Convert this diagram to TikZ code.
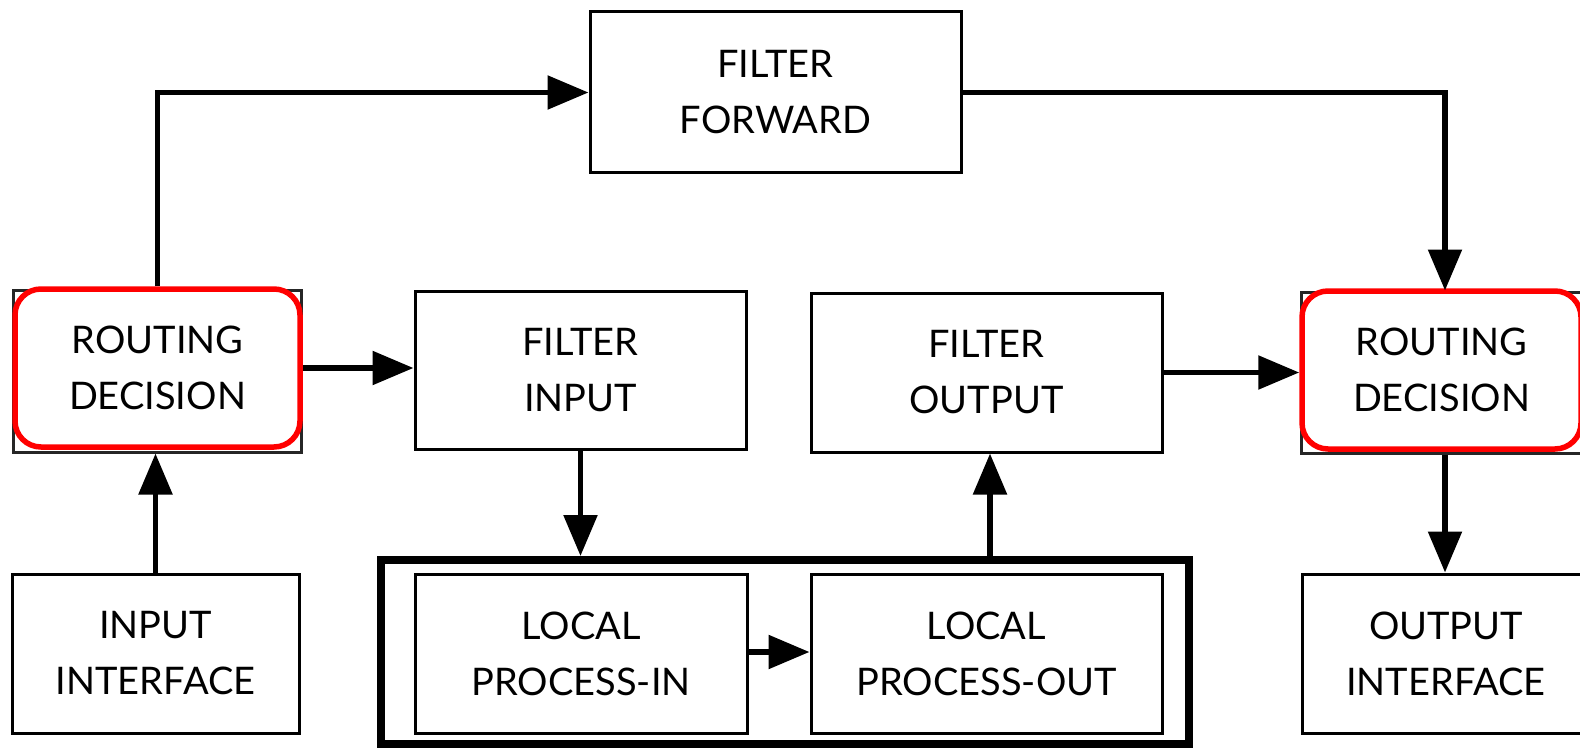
\documentclass[tikz,border=0pt]{standalone}
\usepackage{fontspec}
\setmainfont{Lato}
\usetikzlibrary{arrows.meta}
\definecolor{routered}{RGB}{255,0,0}
\begin{document}
\begin{tikzpicture}[x=1pt,y=-1pt,
  block/.style={draw=black, line width=3pt, fill=white, inner sep=0pt,
    align=center, font=\fontsize{38}{56}\selectfont},
  frame/.style={draw=black!85, line width=3pt, inner sep=0pt},
  decision/.style={draw=routered, line width=5.5pt, rounded corners=26pt,
    fill=white, inner sep=0pt, align=center, font=\fontsize{38}{56}\selectfont},
  group/.style={draw=black, line width=8pt, inner sep=0pt},
  flow/.style={line width=5.5pt, -{Triangle[length=41pt,width=33pt]}}
]
\useasboundingbox (0,0) rectangle (1580,749);
\clip (0,0) rectangle (1580,749);

% forwarding path
\node[block, minimum width=371pt, minimum height=161pt] (ff) at (775.5,92.5) {FILTER\\FORWARD};

% routing decisions: plain frame with a red rounded box over it
\node[frame, minimum width=288pt, minimum height=162pt] (rdl) at (157,371) {};
\node[decision, minimum width=285pt, minimum height=158pt] (rdlr) at (157.5,368) {ROUTING\\DECISION};
\node[frame, minimum width=288pt, minimum height=161pt] (rdr) at (1445,372.5) {};
\node[decision, minimum width=279pt, minimum height=158pt] (rdrr) at (1441.5,370) {ROUTING\\DECISION};

% filters
\node[block, minimum width=331pt, minimum height=158pt] (fi) at (580.5,370) {FILTER\\INPUT};
\node[block, minimum width=351pt, minimum height=159pt] (fo) at (986.5,372.5) {FILTER\\OUTPUT};

% interfaces
\node[block, minimum width=287pt, minimum height=159pt] (ii) at (155.5,653.5) {INPUT\\INTERFACE};
\node[block, minimum width=288pt, minimum height=159pt] (oi) at (1446,653.5) {OUTPUT\\INTERFACE};

% local process group
\node[group, minimum width=808pt, minimum height=184pt] (local) at (785,652) {};
\node[block, minimum width=332pt, minimum height=159pt] (lpi) at (581,653.5) {LOCAL\\PROCESS-IN};
\node[block, minimum width=351pt, minimum height=159pt] (lpo) at (986.5,653.5) {LOCAL\\PROCESS-OUT};

% connectors
\draw[flow] (rdlr.north) |- (ff.west);
\draw[flow] (ff.east) -| (rdr.north);
\draw[flow] (rdlr.east) -- (rdlr.east -| fi.west);
\draw[flow] (ii.north) -- (ii.north |- rdl.south);
\draw[flow] (fi.south) -- (fi.south |- local.north);
\draw[flow] ([xshift=3.5pt]fo.south |- local.north) -- ([xshift=3.5pt]fo.south);
\draw[flow] (fo.east) -- (fo.east -| rdrr.west);
\draw[flow] (rdr.south) -- (rdr.south |- oi.north);
\draw[flow] ([yshift=1.5pt]lpi.east) -- ([yshift=1.5pt]lpo.west);
\end{tikzpicture}
\end{document}
